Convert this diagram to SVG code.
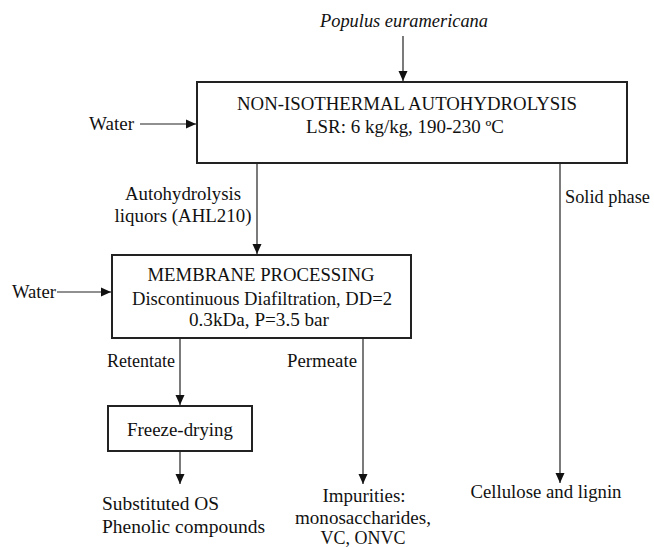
<svg xmlns="http://www.w3.org/2000/svg" width="654" height="547" viewBox="0 0 654 547">
<style>
text{font-family:'Liberation Serif','Times New Roman',serif;font-size:18.5px;fill:#111}
.c{text-anchor:middle}
.box{fill:#fff;stroke:#222;stroke-width:2}
.ln{stroke:#222;stroke-width:1.2;fill:none}
</style>
<defs>
<marker id="ah" markerWidth="10" markerHeight="10" refX="10" refY="5" orient="auto" markerUnits="userSpaceOnUse">
<path d="M0,0.5 L10,5 L0,9.5 Z" fill="#111"/>
</marker>
</defs>
<rect width="654" height="547" fill="#fff"/>
<g id="connectors">
<line class="ln" x1="403" y1="36" x2="403" y2="81" marker-end="url(#ah)"/>
<line class="ln" x1="140" y1="124" x2="196" y2="124" marker-end="url(#ah)"/>
<line class="ln" x1="257" y1="164" x2="257" y2="254" marker-end="url(#ah)"/>
<line class="ln" x1="57" y1="292" x2="111" y2="292" marker-end="url(#ah)"/>
<line class="ln" x1="560" y1="164" x2="560" y2="483" marker-end="url(#ah)"/>
<line class="ln" x1="180" y1="339" x2="180" y2="405" marker-end="url(#ah)"/>
<line class="ln" x1="363" y1="339" x2="363" y2="484" marker-end="url(#ah)"/>
<line class="ln" x1="180" y1="452" x2="180" y2="484" marker-end="url(#ah)"/>
</g>
<g font-family="Liberation Serif, Times New Roman, serif">
<g id="populus"><text class="c" x="404" y="27" font-style="italic" textLength="168" lengthAdjust="spacingAndGlyphs">Populus euramericana</text></g>
<g id="water1"><text x="89" y="130" textLength="45" lengthAdjust="spacingAndGlyphs">Water</text></g>
<g id="autohydrolysis">
<rect class="box" x="197" y="82" width="430" height="81"/>
<text class="c" x="407" y="110" textLength="340" lengthAdjust="spacingAndGlyphs">NON-ISOTHERMAL  AUTOHYDROLYSIS</text>
<text class="c" x="405" y="133" textLength="198" lengthAdjust="spacingAndGlyphs">LSR: 6 kg/kg, 190-230 ºC</text>
</g>
<g id="liquors-label">
<text class="c" x="183" y="200" textLength="116" lengthAdjust="spacingAndGlyphs">Autohydrolysis</text>
<text class="c" x="183" y="222" textLength="137" lengthAdjust="spacingAndGlyphs">liquors  (AHL210)</text>
</g>
<g id="solid-label"><text x="565" y="203" textLength="85" lengthAdjust="spacingAndGlyphs">Solid phase</text></g>
<g id="water2"><text x="12" y="298" textLength="44" lengthAdjust="spacingAndGlyphs">Water</text></g>
<g id="membrane">
<rect class="box" x="112" y="255" width="299" height="83"/>
<text class="c" x="261" y="281" textLength="227" lengthAdjust="spacingAndGlyphs">MEMBRANE  PROCESSING</text>
<text class="c" x="262" y="305" textLength="260" lengthAdjust="spacingAndGlyphs">Discontinuous Diafiltration, DD=2</text>
<text class="c" x="259" y="326" textLength="140" lengthAdjust="spacingAndGlyphs">0.3kDa, P=3.5  bar</text>
</g>
<g id="retentate-label"><text x="107" y="367" textLength="68" lengthAdjust="spacingAndGlyphs">Retentate</text></g>
<g id="permeate-label"><text x="287" y="367" textLength="70" lengthAdjust="spacingAndGlyphs">Permeate</text></g>
<g id="freeze-drying">
<rect class="box" x="108" y="406" width="144" height="45"/>
<text class="c" x="180" y="436" textLength="106" lengthAdjust="spacingAndGlyphs">Freeze-drying</text>
</g>
<g id="products-retentate">
<text x="102" y="510" textLength="117" lengthAdjust="spacingAndGlyphs">Substituted OS</text>
<text x="102" y="533" textLength="163" lengthAdjust="spacingAndGlyphs">Phenolic compounds</text>
</g>
<g id="impurities">
<text class="c" x="364" y="502" textLength="83" lengthAdjust="spacingAndGlyphs">Impurities:</text>
<text class="c" x="363" y="524" textLength="136" lengthAdjust="spacingAndGlyphs">monosaccharides,</text>
<text class="c" x="363" y="544" textLength="85" lengthAdjust="spacingAndGlyphs">VC, ONVC</text>
</g>
<g id="cellulose"><text class="c" x="546" y="498" textLength="151" lengthAdjust="spacingAndGlyphs">Cellulose and lignin</text></g>
</g>
</svg>
